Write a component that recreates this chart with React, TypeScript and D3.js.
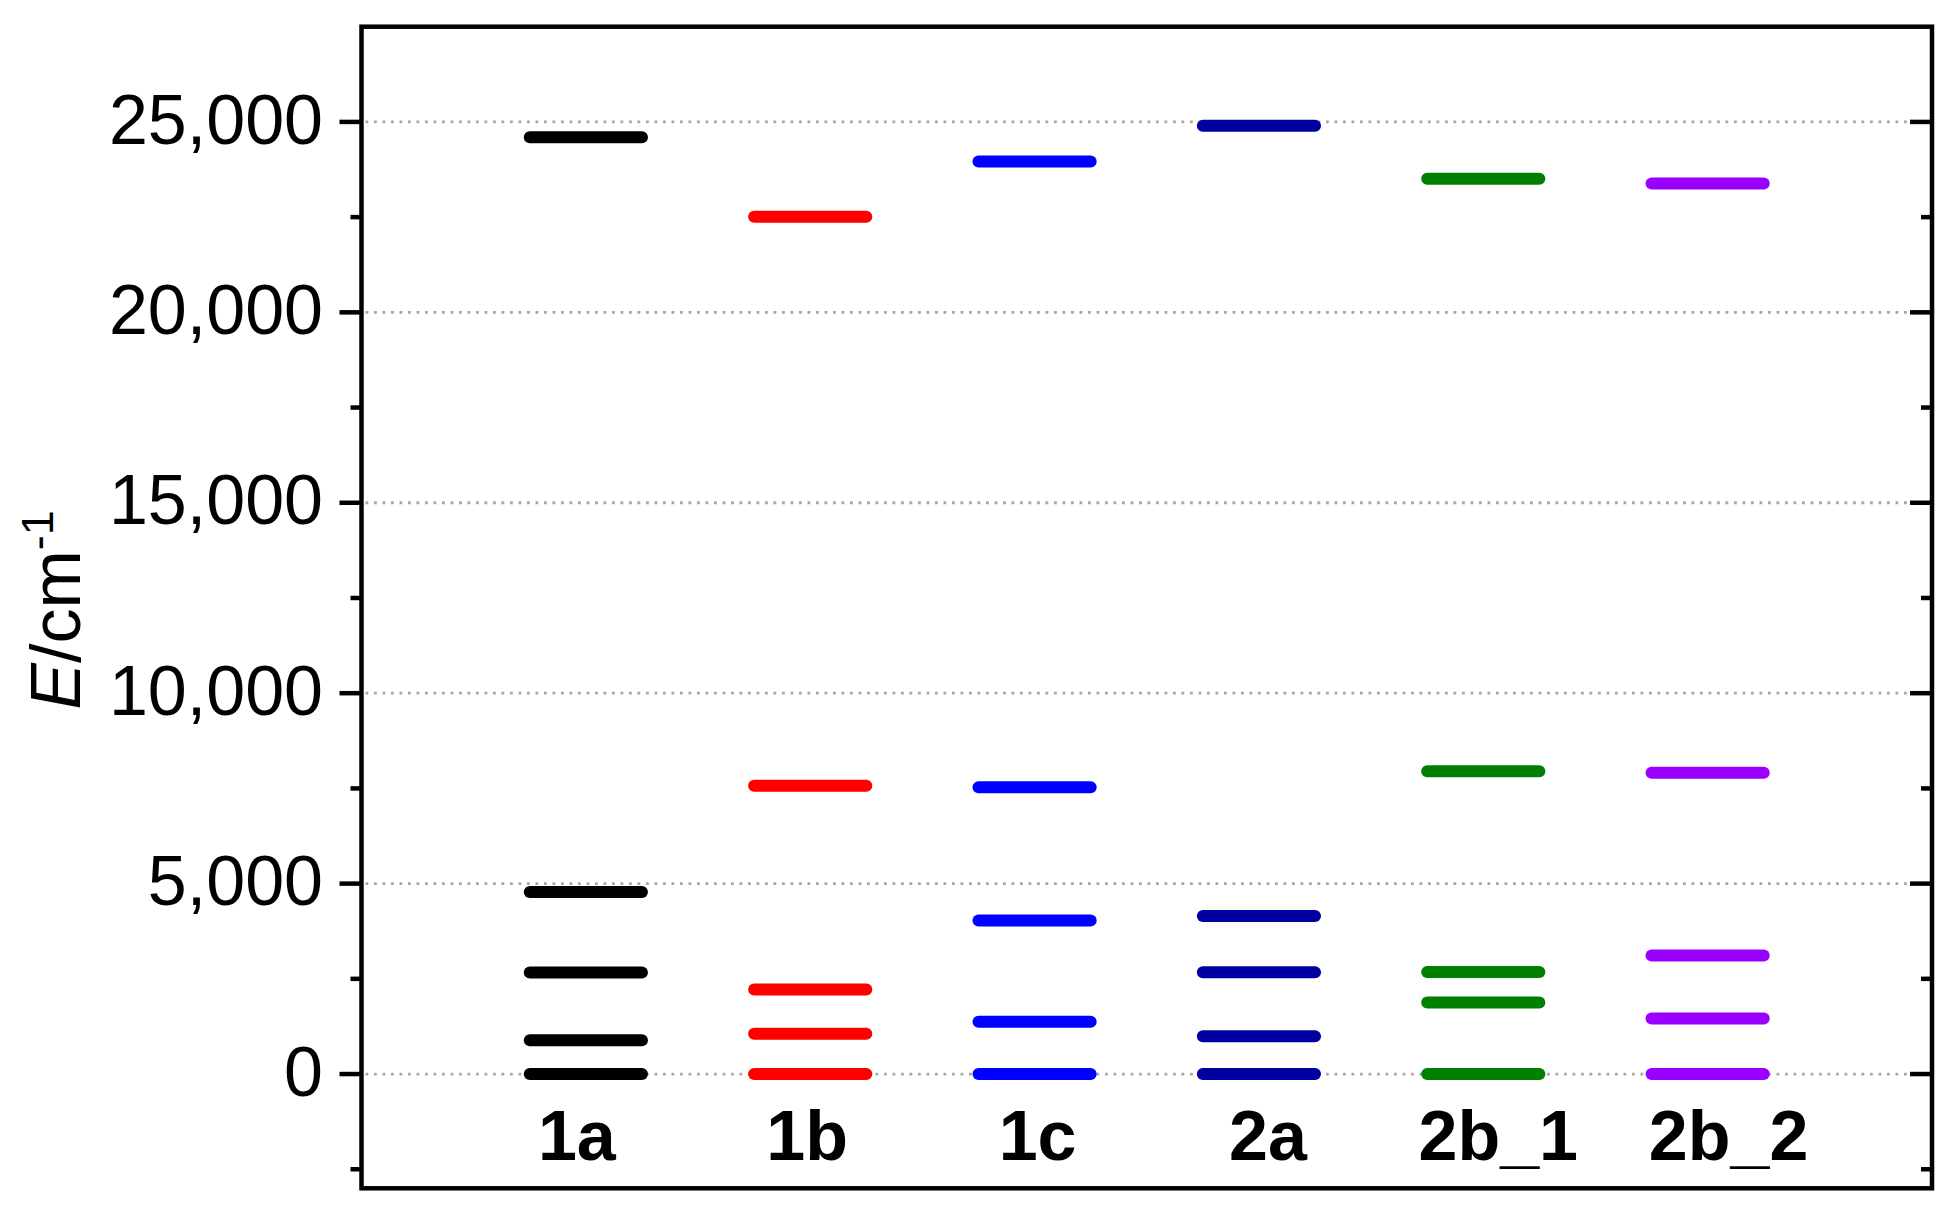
import * as d3 from "d3";

// energy levels (cm^-1)
const compounds = ["1a", "1b", "1c", "2a", "2b_1", "2b_2"];
const colors = ["#000000", "#ff0000", "#0000ff", "#0000a0", "#008000", "#9900ff"];
const levels1a = [0, 890, 2665, 4780, 24600];
const levels1b = [0, 1055, 2220, 7570, 22510];
const levels1c = [0, 1370, 4030, 7530, 23960];
const levels2a = [0, 990, 2670, 4150, 24900];
const levels2b1 = [0, 1880, 2680, 7950, 23510];
const levels2b2 = [0, 1460, 3110, 7910, 23380];
const majorTicks = [0, 5000, 10000, 15000, 20000, 25000];
const minorTicks = [-2500, 2500, 7500, 12500, 17500, 22500];

const allLevels = [levels1a, levels1b, levels1c, levels2a, levels2b1, levels2b2];

const W = 1960;
const H = 1214;
const left = 361.5;
const right = 1932;
const top = 26.7;
const bottom = 1188.3;
const font = "'Liberation Sans', Arial, sans-serif";

export default function App() {
  const x = d3.scaleLinear([0, 7], [left, right]);
  const y = d3.scaleLinear([-3000, 27500], [bottom, top]);
  // category labels sit slightly wider apart than the level bars
  const labelX = d3.scaleLinear([1, 6], [x(1) - 9, x(6) + 21]);
  const fmt = d3.format(",");
  const half = 0.25;

  return (
    <svg
      width={W}
      height={H}
      style={{ position: "absolute", left: 0, top: 0, background: "#fff" }}
    >
      {/* grid */}
      <g stroke="#a6a6a6" strokeWidth={2.8} strokeDasharray="2.8 5.7">
        {majorTicks.map((t) => (
          <line key={t} x1={left + 4} x2={right - 4} y1={y(t)} y2={y(t)} />
        ))}
      </g>

      {/* level bars */}
      {allLevels.map((lv, i) => (
        <g key={compounds[i]} stroke={colors[i]} strokeWidth={12} strokeLinecap="round">
          {lv.map((v, j) => (
            <line key={j} x1={x(i + 1 - half)} x2={x(i + 1 + half)} y1={y(v)} y2={y(v)} />
          ))}
        </g>
      ))}

      {/* ticks */}
      <g stroke="#000" strokeWidth={4.5}>
        {majorTicks.map((t) => (
          <g key={t}>
            <line x1={left - 22} x2={left} y1={y(t)} y2={y(t)} />
            <line x1={right - 22} x2={right} y1={y(t)} y2={y(t)} />
          </g>
        ))}
        {minorTicks.map((t) => (
          <g key={t}>
            <line x1={left - 11} x2={left} y1={y(t)} y2={y(t)} />
            <line x1={right - 11} x2={right} y1={y(t)} y2={y(t)} />
          </g>
        ))}
      </g>

      {/* frame */}
      <rect
        x={left}
        y={top}
        width={right - left}
        height={bottom - top}
        fill="none"
        stroke="#000"
        strokeWidth={4.5}
      />

      {/* y tick labels */}
      <g fontFamily={font} fontSize={70} textAnchor="end" fill="#000">
        {majorTicks.map((t) => (
          <text key={t} x={left - 38.5} y={y(t)} dy="0.31em">
            {fmt(t)}
          </text>
        ))}
      </g>

      {/* category labels */}
      <g fontFamily={font} fontSize={70} fontWeight="bold" textAnchor="middle" fill="#000">
        {compounds.map((c, i) => (
          <text key={c} x={labelX(i + 1)} y={1160}>
            {c}
          </text>
        ))}
      </g>

      {/* y axis title */}
      <text
        transform={`translate(80, ${610}) rotate(-90)`}
        fontFamily={font}
        fontSize={70}
        textAnchor="middle"
        fill="#000"
      >
        <tspan fontStyle="italic">E</tspan>
        <tspan>/cm</tspan>
        <tspan fontSize={45} dy={-27}>
          -1
        </tspan>
      </text>
    </svg>
  );
}
